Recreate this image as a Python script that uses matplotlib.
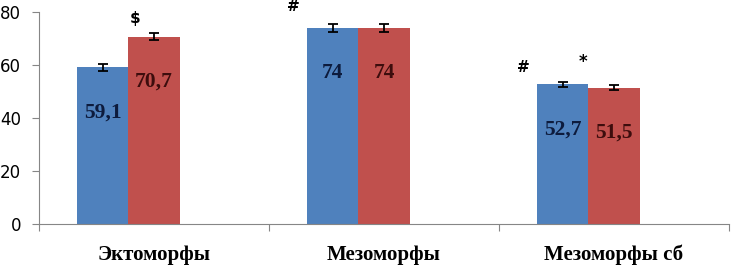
import numpy as np
from matplotlib import pyplot as plt

categories = ['Эктоморфы', 'Мезоморфы', 'Мезоморфы сб']
series_a = [59.1, 74.0, 52.7]
series_b = [70.7, 74.0, 51.5]
err_a = [1.3, 1.5, 1.0]
err_b = [1.3, 1.5, 1.0]
labels_a = ['59,1', '74', '52,7']
labels_b = ['70,7', '74', '51,5']
yticks = [0, 20, 40, 60, 80]

blue = '#4f81bd'
red = '#c0504d'
grey = '#868686'

fig = plt.figure(figsize=(7.31, 2.67), dpi=100)
ax = fig.add_axes([39 / 731, 43 / 267, 690 / 731, 212 / 267])

x = np.arange(len(categories))
w = 1 / 4.5  # 3 slots + gap 150%, third series empty

ax.bar(x - w, series_a, w, color=blue, yerr=err_a, capsize=3.5,
       error_kw=dict(ecolor='black', elinewidth=1.3, capthick=1.3))
ax.bar(x, series_b, w, color=red, yerr=err_b, capsize=3.5,
       error_kw=dict(ecolor='black', elinewidth=1.3, capthick=1.3))

for i in range(len(categories)):
    ax.text(x[i] - w, series_a[i] - 17, labels_a[i], ha='center', va='center',
            family='Liberation Serif', fontweight='bold', fontsize=15.5, color='#0d1b3d')
    ax.text(x[i], series_b[i] - 17, labels_b[i], ha='center', va='center',
            family='Liberation Serif', fontweight='bold', fontsize=15.5, color='#3d0d0d')

# значимость
ax.text(-0.083, 77.7, '$', ha='center', va='center', fontsize=11, fontweight='bold', clip_on=False)
ax.text(0.604, 81.9, '#', ha='center', va='center', fontsize=11, fontweight='bold', clip_on=False)
ax.text(1.604, 59.2, '#', ha='center', va='center', fontsize=11, fontweight='bold')
ax.text(1.865, 61.1, '*', ha='center', va='center', fontsize=12, fontweight='bold')

ax.set_xlim(-0.5, 2.5)
ax.set_ylim(0, 80)
ax.set_yticks(yticks)
ax.set_yticklabels([str(t) for t in yticks], fontsize=12)
ax.set_xticks([-0.5, 0.5, 1.5, 2.5], minor=False)
ax.set_xticklabels([])
ax.set_xticks(x, minor=True)
ax.set_xticklabels(categories, minor=True, family='Liberation Serif',
                   fontweight='bold', fontsize=15)
ax.tick_params(axis='x', which='minor', length=0, pad=15)
ax.tick_params(axis='x', which='major', length=5, color=grey, direction='out')
ax.tick_params(axis='y', length=5, color=grey, pad=8)

for s in ['top', 'right']:
    ax.spines[s].set_visible(False)
ax.spines['left'].set_color(grey)
ax.spines['bottom'].set_color(grey)

plt.savefig('out.png', dpi=100)
